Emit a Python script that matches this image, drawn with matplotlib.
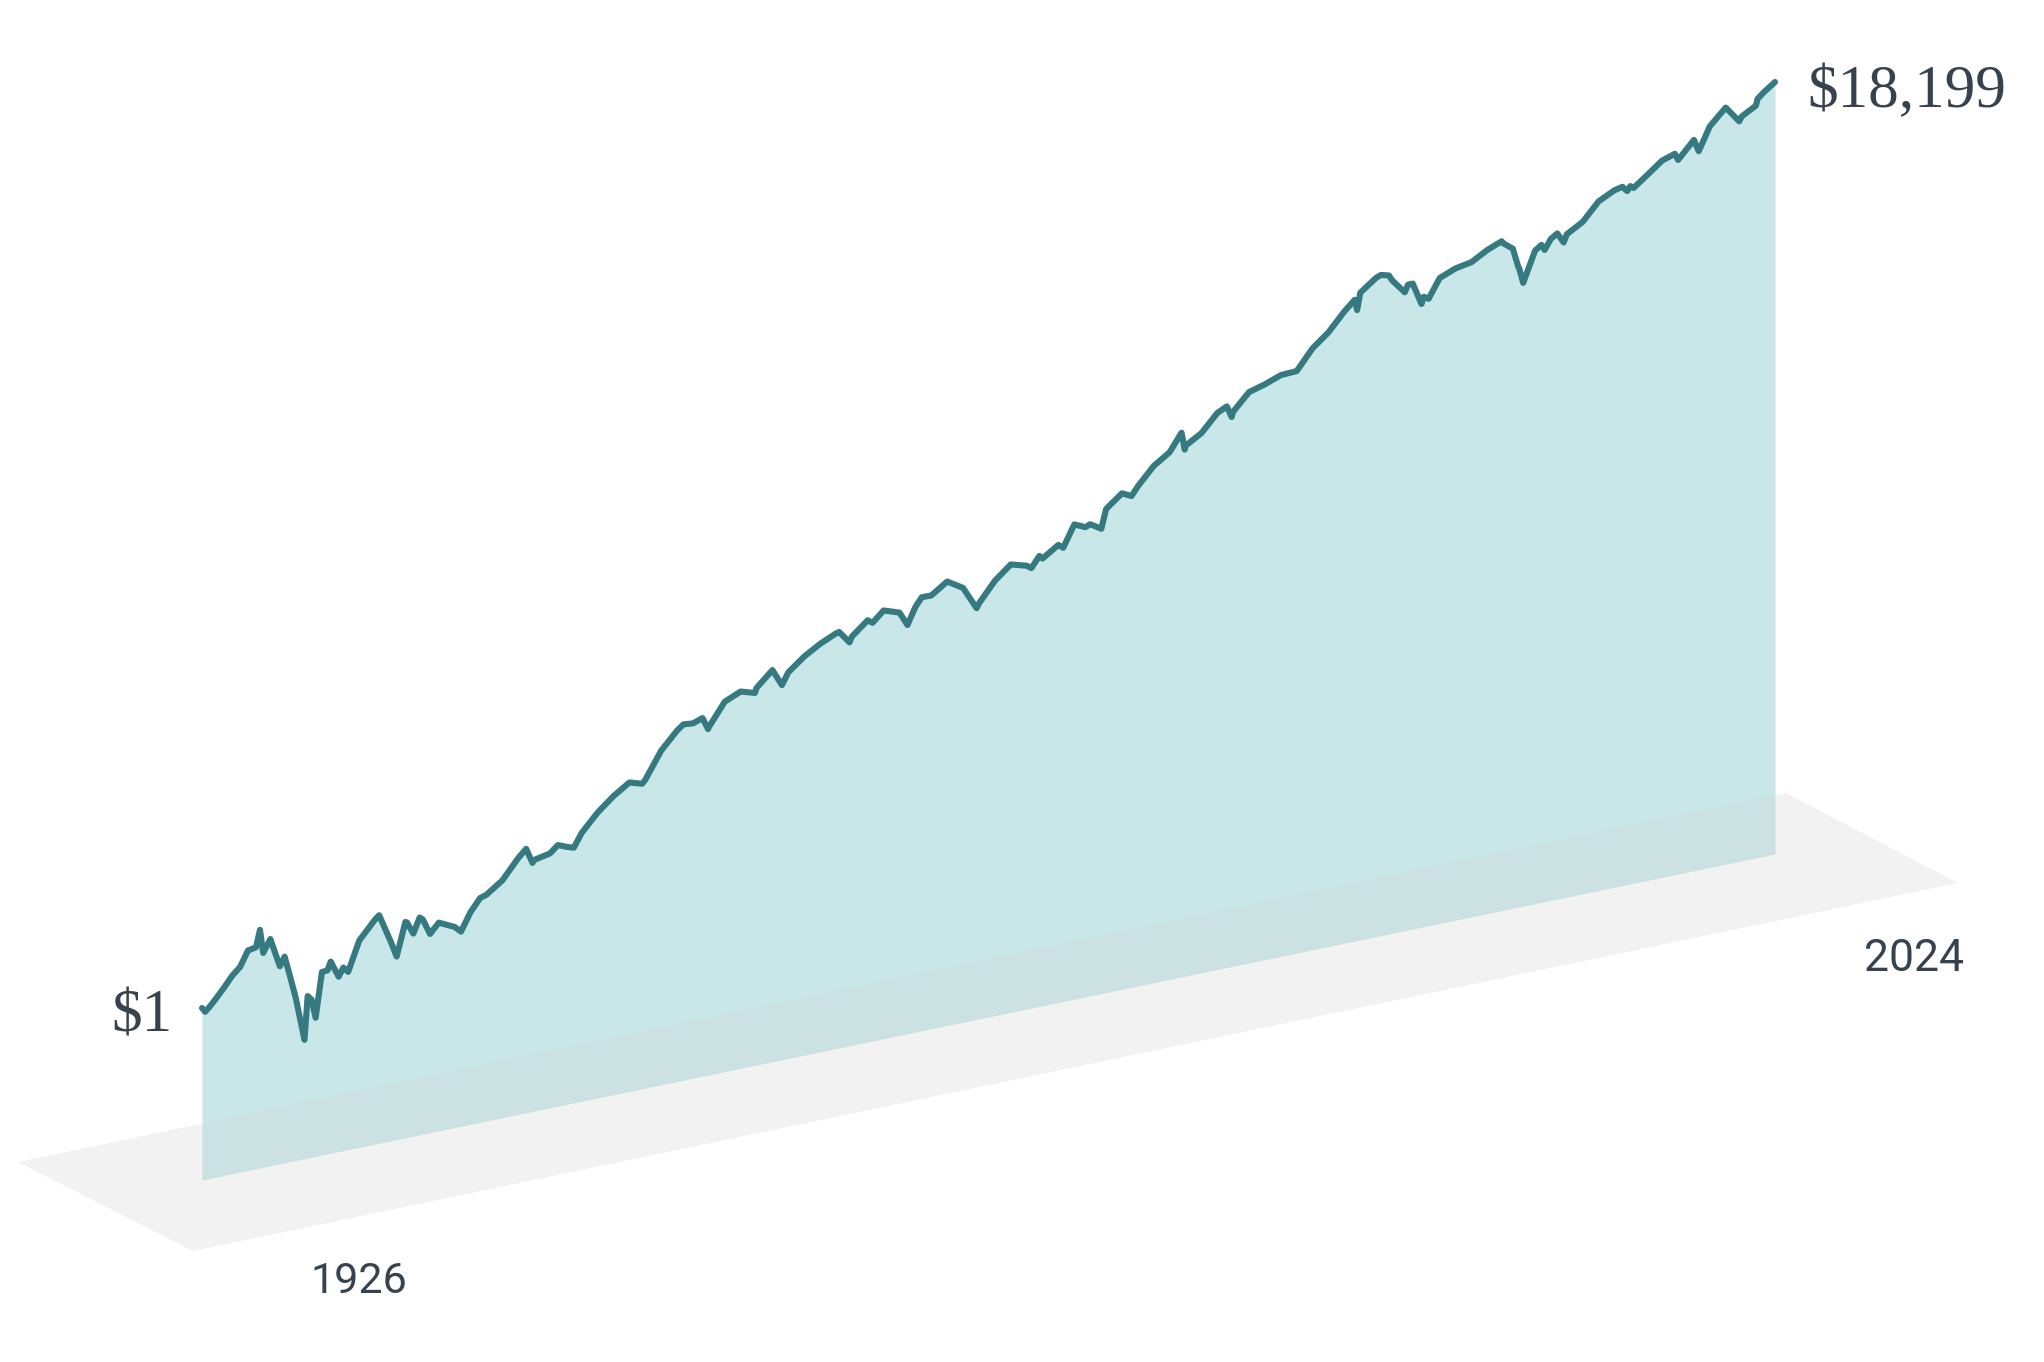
import math

import matplotlib
matplotlib.use("Agg")
import matplotlib.pyplot as plt
from matplotlib.patches import Polygon
from matplotlib.transforms import Affine2D

# Growth of $1 (log scale), decimal year -> value
years = [
    1926.0, 1926.2, 1926.5, 1926.9, 1927.4, 1927.9, 1928.4, 1928.9, 1929.0,
    1929.4, 1929.65, 1929.85, 1930.3, 1930.9, 1931.2, 1931.5, 1931.9,
    1932.45, 1932.65, 1932.9, 1933.15, 1933.55, 1933.9, 1934.1, 1934.6,
    1934.9, 1935.2, 1935.9, 1936.9, 1937.15, 1937.9, 1938.25, 1938.8,
    1938.9, 1939.3, 1939.7, 1939.9, 1940.35, 1940.9, 1941.9, 1942.3,
    1942.9, 1943.5, 1943.9, 1944.9, 1945.9, 1946.4, 1946.8, 1946.9,
    1947.9, 1948.4, 1948.9, 1949.4, 1949.9, 1950.9, 1951.9, 1952.9,
    1953.7, 1953.9, 1954.9, 1955.9, 1956.3, 1956.9, 1957.5, 1957.85,
    1957.9, 1958.9, 1959.9, 1960.8, 1960.9, 1961.9, 1962.5, 1962.9,
    1963.9, 1964.9, 1965.9, 1966.1, 1966.75, 1966.9, 1967.9, 1968.2,
    1968.9, 1969.9, 1970.4, 1970.9, 1971.3, 1971.9, 1972.9, 1973.9,
    1974.75, 1974.9, 1975.9, 1976.9, 1977.9, 1978.2, 1978.7, 1978.9,
    1979.9, 1980.2, 1980.9, 1981.6, 1981.9, 1982.6, 1982.9, 1983.9,
    1984.5, 1984.9, 1985.9, 1986.9, 1987.65, 1987.85, 1987.9, 1988.9,
    1989.9, 1990.5, 1990.8, 1990.9, 1991.9, 1992.9, 1993.9, 1994.9,
    1995.9, 1996.9, 1997.9, 1998.55, 1998.7, 1998.9, 1999.9, 2000.2,
    2000.7, 2000.9, 2001.7, 2001.9, 2002.2, 2002.75, 2002.9, 2003.2,
    2003.9, 2004.9, 2005.9, 2006.9, 2007.8, 2007.9, 2008.5, 2008.85,
    2008.9, 2009.15, 2009.9, 2010.3, 2010.5, 2010.9, 2011.3, 2011.7,
    2011.9, 2012.9, 2013.9, 2014.9, 2015.4, 2015.7, 2015.9, 2016.1,
    2016.9, 2017.9, 2018.7, 2018.9, 2019.9, 2020.2, 2020.9, 2021.9,
    2022.75, 2022.9, 2023.8, 2023.9, 2024.3, 2025.0,
]
values = [
    1.00, 0.93, 1.00, 1.12, 1.30, 1.53, 1.72, 2.20, 2.20,
    2.25, 2.95, 2.00, 2.45, 1.52, 1.75, 1.30, 0.86,
    0.42, 0.85, 0.79, 0.58, 1.20, 1.21, 1.38, 1.05,
    1.20, 1.10, 1.77, 2.37, 2.50, 1.54, 1.20, 2.05,
    2.02, 1.65, 2.10, 2.01, 1.55, 1.81, 1.60, 1.45,
    1.93, 2.35, 2.43, 2.91, 3.97, 4.50, 3.50, 3.65,
    3.85, 4.30, 4.07, 3.90, 4.84, 6.39, 7.93, 9.38,
    8.80, 9.29, 14.18, 18.66, 20.2, 19.88, 21.0, 17.2,
    17.74, 25.43, 28.47, 26.5, 28.60, 36.29, 27.5, 33.13,
    40.68, 47.39, 53.29, 54.0, 44.0, 47.93, 59.42, 56.0,
    66.00, 60.39, 48.0, 62.80, 72.0, 71.77, 85.39, 72.87,
    50.0, 53.59, 73.53, 91.05, 84.51, 80.0, 95.0, 90.05,
    106.66, 100.0, 141.24, 130.0, 134.31, 120.0, 163.09, 199.84,
    185.0, 212.37, 280.56, 332.91, 440.0, 330.0, 350.42, 408.48,
    537.79, 580.0, 480.0, 521.05, 679.87, 731.69, 805.34, 815.92,
    1122.95, 1380.55, 1841.03, 2150.0, 1800.0, 2367.06, 2865.06, 2950.0,
    2850.0, 2604.26, 2050.0, 2294.75, 2300.0, 1600.0, 1787.63, 1700.0,
    2300.43, 2550.68, 2675.96, 3098.65, 3400.0, 3268.90, 2900.0, 2100.0,
    2059.50, 1600.0, 2604.51, 2800.0, 2550.0, 2996.79, 3200.0, 2700.0,
    3060.07, 3549.99, 4699.97, 5343.51, 5500.0, 5050.0, 5417.31, 5200.0,
    6065.52, 7389.87, 7900.0, 7066.05, 9290.92, 7600.0, 10999.9, 14157.5,
    10800.0, 11593.8, 13200.0, 14640.0, 16000.0, 18199.0,
]
start_label = "$1"
end_label = "$18,199"
first_year_label = "1926"
last_year_label = "2024"

W, H, DPI = 2044, 1362, 100
LINE = "#357a80"
PANEL = "#c9e7e8"
TEXT = "#36434e"

fig = plt.figure(figsize=(W / DPI, H / DPI), dpi=DPI)

# panel geometry in pixels (origin bottom-left)
x0, x1 = 202, 1775
base0 = H - 1180           # baseline at left edge
slope = (1180 - 854) / (x1 - x0)
height = 772               # baseline -> last value
ax = fig.add_axes([x0 / W, base0 / H, (x1 - x0) / W, height / H])
ax.set_yscale("log")
ax.set_xlim(1926, 2025)
ax.set_ylim(0.0601, values[-1])
ax.set_axis_off()

# lean the panel so its baseline rises to the right
shear = (Affine2D().translate(-x0, -base0)
         .skew(0, math.atan(slope)).translate(x0, base0))
trans = ax.transData + shear

ymin = ax.get_ylim()[0]
ax.fill_between(years, values, ymin, color=PANEL, lw=0,
                transform=trans, clip_on=False, zorder=1)

# floor
floor = [(18, 1162), (193, 1251), (1958, 883), (1786, 793)]
fig.add_artist(Polygon([(x / W, 1 - y / H) for x, y in floor],
                       closed=True, transform=fig.transFigure,
                       facecolor="#d6d6d6", alpha=0.3, lw=0, zorder=2))

ax.plot(years, values, color=LINE, lw=4.4, solid_joinstyle="round",
        solid_capstyle="round", transform=trans, clip_on=False, zorder=3)

serif = ["Liberation Serif", "DejaVu Serif"]
sans = ["Roboto", "DejaVu Sans"]
fig.text(172 / W, 1 - 1032 / H, start_label, family=serif, size=44,
         color=TEXT, ha="right", va="baseline")
fig.text(1807 / W, 1 - 107 / H, end_label, family=serif, size=44,
         color=TEXT, ha="left", va="baseline")
fig.text(359 / W, 1 - 1293 / H, first_year_label, family=sans, size=31,
         color=TEXT, ha="center", va="baseline")
fig.text(1914 / W, 1 - 971 / H, last_year_label, family=sans, size=32,
         color=TEXT, ha="center", va="baseline")

fig.savefig("out.png", dpi=DPI)
